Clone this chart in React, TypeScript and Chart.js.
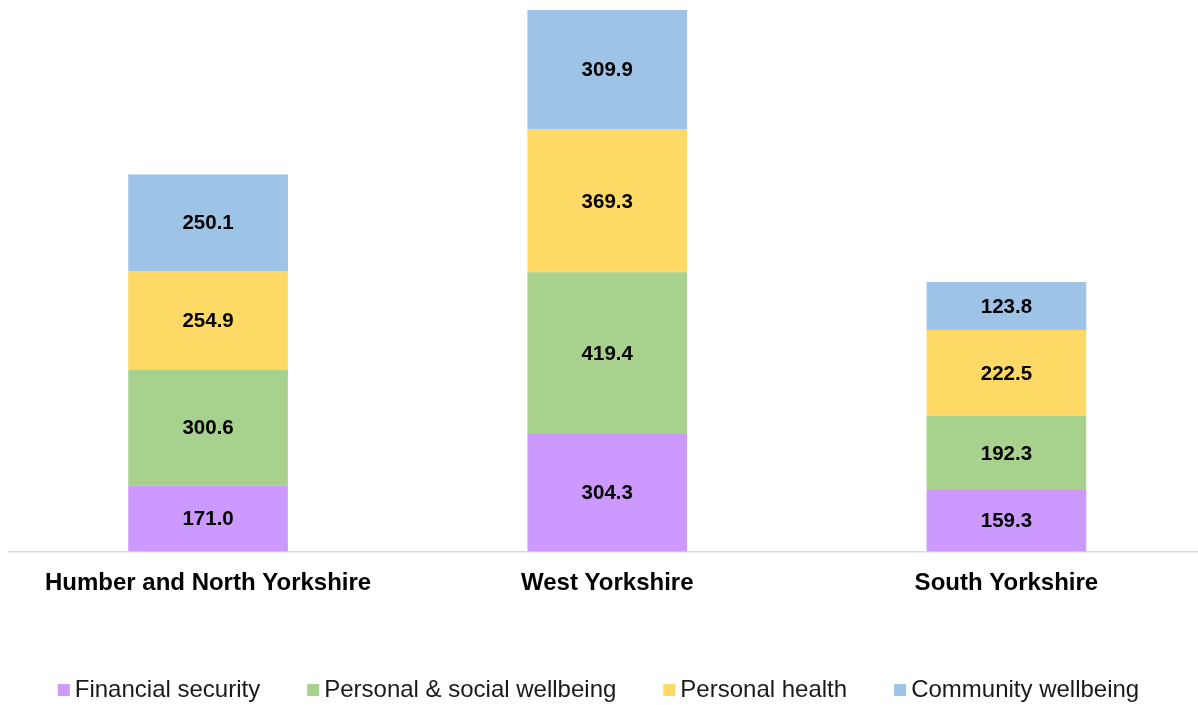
import React, { useEffect, useRef } from "react";
import { Chart, registerables } from "chart.js";

Chart.register(...registerables);

const categories = ["Humber and North Yorkshire", "West Yorkshire", "South Yorkshire"];
const seriesNames = ["Financial security", "Personal & social wellbeing", "Personal health", "Community wellbeing"];
const financialSecurity = [171.0, 304.3, 159.3];
const personalSocialWellbeing = [300.6, 419.4, 192.3];
const personalHealth = [254.9, 369.3, 222.5];
const communityWellbeing = [250.1, 309.9, 123.8];
const seriesColors = ["#CC99FF", "#A9D18E", "#FFD966", "#9DC3E6"];

const FONT = "'Liberation Sans', Arial, sans-serif";

const dataLabelPlugin = {
  id: "stackLabels",
  afterDatasetsDraw(chart: any) {
    const ctx = chart.ctx;
    ctx.save();
    ctx.font = `bold 20.5px ${FONT}`;
    ctx.fillStyle = "#000000";
    ctx.textAlign = "center";
    ctx.textBaseline = "middle";
    chart.data.datasets.forEach((ds: any, di: number) => {
      const meta = chart.getDatasetMeta(di);
      meta.data.forEach((el: any, i: number) => {
        const v = ds.data[i];
        const y = (el.y + el.base) / 2;
        ctx.fillText(Number(v).toFixed(1), el.x, y + 1);
      });
    });
    ctx.restore();
  },
};

// Legend drawn under the chart: small square, short gap, text; items centred.
const bottomLegendPlugin = {
  id: "bottomLegend",
  afterDraw(chart: any) {
    const ctx = chart.ctx;
    const box = 12;
    const boxGap = 5;
    const itemGap = 47;
    const centerX = 598.5;
    const centerY = 690;
    ctx.save();
    ctx.font = `24px ${FONT}`;
    ctx.textBaseline = "middle";
    ctx.textAlign = "left";
    const items = chart.data.datasets.map((ds: any) => ({
      text: ds.label,
      color: ds.backgroundColor,
      w: ctx.measureText(ds.label).width,
    }));
    const total =
      items.reduce((s: number, it: any) => s + box + boxGap + it.w, 0) + itemGap * (items.length - 1);
    let x = centerX - total / 2;
    items.forEach((it: any) => {
      ctx.fillStyle = it.color;
      ctx.fillRect(x, centerY - box / 2, box, box);
      ctx.fillStyle = "#1a1a1a";
      ctx.fillText(it.text, x + box + boxGap, centerY);
      x += box + boxGap + it.w + itemGap;
    });
    ctx.restore();
  },
};

export default function App() {
  const ref = useRef<HTMLCanvasElement | null>(null);
  useEffect(() => {
    if (!ref.current) return;
    const all = [financialSecurity, personalSocialWellbeing, personalHealth, communityWellbeing];
    const totals = categories.map((_, i) => all.reduce((s, arr) => s + arr[i], 0));
    const chart = new Chart(ref.current, {
      type: "bar",
      data: {
        labels: categories,
        datasets: all.map((arr, k) => ({
          label: seriesNames[k],
          data: arr,
          backgroundColor: seriesColors[k],
          borderWidth: 0,
          categoryPercentage: 1,
          barPercentage: 0.4,
        })),
      },
      options: {
        animation: false,
        responsive: true,
        maintainAspectRatio: false,
        layout: { padding: { left: 8.5, right: 0, top: 10, bottom: 93.5 } },
        plugins: {
          tooltip: { enabled: false },
          legend: { display: false },
        },
        scales: {
          x: {
            stacked: true,
            grid: { display: false, drawTicks: false },
            border: { display: true, color: "#d9d9d9", width: 1.5 },
            ticks: {
              color: "#000000",
              padding: 17,
              font: { family: FONT, size: 24, weight: "bold" },
              maxRotation: 0,
              autoSkip: false,
            },
            afterFit: (scale: any) => {
              scale.height = 60;
            },
          },
          y: {
            stacked: true,
            display: false,
            min: 0,
            max: Math.max(...totals),
          },
        },
      },
      plugins: [dataLabelPlugin, bottomLegendPlugin],
    });
    return () => chart.destroy();
  }, []);
  return (
    <div style={{ position: "fixed", left: 0, top: 0, width: 1198, height: 705, overflow: "hidden", background: "#fff" }}>
      <div style={{ position: "absolute", left: 0, top: 0, width: 1206, height: 705 }}>
        <canvas ref={ref} />
      </div>
    </div>
  );
}
